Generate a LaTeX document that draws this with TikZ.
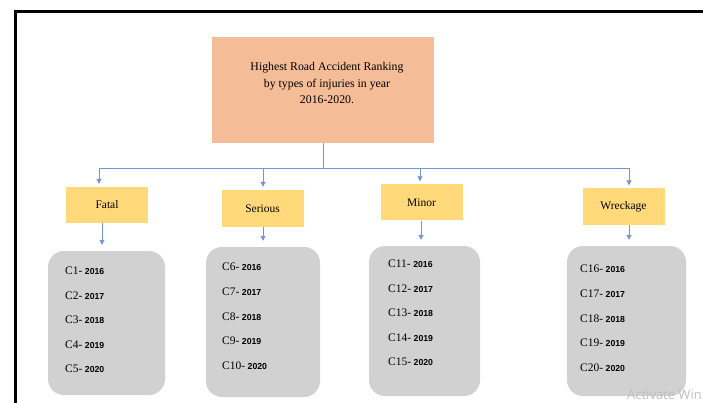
\documentclass[tikz,border=0pt]{standalone}
\usepackage{fontspec}
\setmainfont{Liberation Serif}
\newfontfamily\diagfont{Liberation Serif}
\newfontfamily\yearfont{Liberation Sans}
\newfontfamily\wmfont{Open Sans}
\usetikzlibrary{positioning,arrows.meta}
\definecolor{peach}{RGB}{244,189,151}
\definecolor{cyellow}{RGB}{255,217,122}
\definecolor{lgray}{RGB}{209,209,209}
\definecolor{linkblue}{RGB}{68,114,196}
\newcommand{\caseitem}[2]{{\diagfont\fontsize{11.5}{11.5}\selectfont C#1-} {\yearfont\bfseries\fontsize{8.7}{8.7}\selectfont #2}}

\begin{document}
\begin{tikzpicture}[x=1pt,y=-1pt,
  catbox/.style={draw=none, fill=cyellow, minimum width=82pt, minimum height=36pt, font=\diagfont\fontsize{11.5}{11.5}\selectfont},
  listbox/.style={draw=none, fill=lgray, rounded corners=16pt},
  link/.style={draw=linkblue!75, line width=0.9pt},
  arr/.style={link, -{Triangle[length=5pt,width=5pt]}, shorten >=3pt}]
  \useasboundingbox (0,0) rectangle (703,403);

  % Frame
  \draw[line width=3pt] (15,403) -- (15,12) -- (703,12);

  % Title
  \node[fill=peach, minimum width=222pt, minimum height=106pt] (title) at (323,90) {};
  \node[align=center, font=\diagfont\fontsize{11.8}{16.5}\selectfont] (titletext) at (327,83)
    {Highest Road Accident Ranking\\by types of injuries in year\\2016-2020.};

  % Categories
  \node[catbox] (fatal) at (107,205) {Fatal};
  \node[catbox, minimum height=37pt] (serious) at (262.5,208.5) {Serious};
  \node[catbox] (minor) at (421.5,202.5) {Minor};
  \node[catbox] (wreck) at (623.5,206.5) {Wreckage};

  % Bus
  \coordinate (busL) at (99,168);
  \coordinate (busR) at (629,168);
  \draw[link] (title.south) -- (title.south |- busL);
  \draw[link] (busL) -- (busR);
  \draw[arr] (busL) -- (busL |- fatal.north);
  \draw[arr] (263,168) -- (263,168 |- serious.north);
  \draw[arr] (420,168) -- (420,168 |- minor.north);
  \draw[arr] (busR) -- (busR |- wreck.north);

  % Lists
  \node[listbox, minimum width=117pt, minimum height=144pt] (list1) at (106.5,323) {};
  \node[listbox, minimum width=114pt, minimum height=150pt] (list2) at (263,322) {};
  \node[listbox, minimum width=111pt, minimum height=150pt] (list3) at (424.5,321) {};
  \node[listbox, minimum width=119pt, minimum height=150pt] (list4) at (626.5,321) {};

  \draw[arr, shorten >=6pt] (102,223) -- (102,223 |- list1.north);
  \draw[arr, shorten >=6pt] (263,227) -- (263,227 |- list2.north);
  \draw[arr, shorten >=6pt] (421,221) -- (421,221 |- list3.north);
  \draw[arr, shorten >=6pt] (629,225) -- (629,225 |- list4.north);

  \foreach \n/\yr [count=\i from 0] in {1/2016,2/2017,3/2018,4/2019,5/2020}
    \node[anchor=west, inner sep=0pt] (c\n) at (65,271+24.5*\i) {\caseitem{\n}{\yr}};
  \foreach \n/\yr [count=\i from 0] in {6/2016,7/2017,8/2018,9/2019,10/2020}
    \node[anchor=west, inner sep=0pt] (c\n) at (222,267+24.7*\i) {\caseitem{\n}{\yr}};
  \foreach \n/\yr [count=\i from 0] in {11/2016,12/2017,13/2018,14/2019,15/2020}
    \node[anchor=west, inner sep=0pt] (c\n) at (388,264+24.5*\i) {\caseitem{\n}{\yr}};
  \foreach \n/\yr [count=\i from 0] in {16/2016,17/2017,18/2018,19/2019,20/2020}
    \node[anchor=west, inner sep=0pt] (c\n) at (580,269+24.7*\i) {\caseitem{\n}{\yr}};

  % Watermark
  \node[anchor=east, inner sep=0pt, text=gray!50, font=\wmfont\fontsize{13}{13}\selectfont] (wm) at (702,395) {Activate Win};
\end{tikzpicture}
\end{document}
